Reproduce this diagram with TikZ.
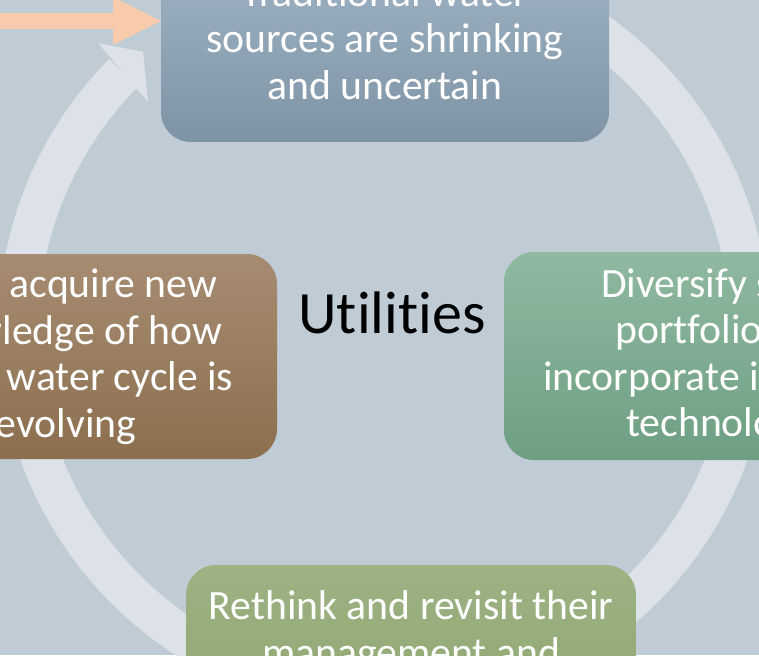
\documentclass[tikz,border=0pt]{standalone}
\usepackage{fontspec}
\setmainfont{Carlito}[Ligatures=NoCommon]
\definecolor{bgc}{HTML}{BFCCD6}
\definecolor{ringc}{HTML}{DCE2E7}
\definecolor{orangec}{HTML}{F8CBAD}
\definecolor{blueT}{HTML}{A2B6C6}
\definecolor{blueB}{HTML}{7E94A6}
\definecolor{brownT}{HTML}{A68C72}
\definecolor{brownB}{HTML}{8C6F4E}
\definecolor{greenT}{HTML}{8FB9A0}
\definecolor{greenB}{HTML}{6E9F83}
\definecolor{oliveT}{HTML}{9EB284}
\definecolor{oliveB}{HTML}{88A268}
\begin{document}
\begin{tikzpicture}[x=1pt,y=-1pt,
  box/.style={rounded corners=30pt, inner sep=0pt, text=white, align=center,
    font=\fontsize{41.7}{46.5}\selectfont},
  txt/.style={inner sep=0pt, text=white, align=center,
    font=\fontsize{41.7}{46.5}\selectfont},
  ringline/.style={draw=ringc, line width=40pt},
  ringhead/.style={fill=ringc},
  inarrow/.style={fill=orangec}]
\useasboundingbox (0,0) rectangle (759,655);
\clip (0,0) rectangle (759,655);
\fill[bgc] (0,0) rectangle (759,655);
% circular arrow
\coordinate (C) at (384,330);
\draw[ringline] ([shift={(-135.4:366)}]C) arc[start angle=-135.4, end angle=-420, radius=366];
\coordinate (h1) at ([shift={(-134.9:405)}]C);
\coordinate (h2) at ([shift={(-130.9:368)}]C);
\coordinate (h3) at ([shift={(-136:328)}]C);
\fill[ringhead] (h1) -- (h2) -- (h3) -- cycle;
% boxes
\node[box, top color=blueT, bottom color=blueB, minimum width=448pt, minimum height=207pt] (top) at (385,38.5) {Traditional water\\sources are shrinking\\and uncertain};
\node[box, top color=brownT, bottom color=brownB, minimum width=422pt, minimum height=205pt] (left) at (66,356.5) {must acquire new\\knowledge of how\\\hspace*{42pt}the water cycle is\\evolving};
\node[box, top color=greenT, bottom color=greenB, minimum width=460pt, minimum height=208pt] (right) at (734,356) {Diversify supply\\portfolios and\\incorporate innovative\\technologies};
\node[box, top color=oliveT, bottom color=oliveB, minimum width=450pt, minimum height=210pt] (bottom) at (411,670) {};
\node[txt, anchor=north] (btxt) at ([yshift=-26pt]bottom.north) {Rethink and revisit their\\management and};
% incoming arrow
\coordinate (a0) at (-5,13);
\fill[inarrow] (a0) -- (113,13) -- (113,-3) -- (top.west |- 0,21) -- (113,45) -- (113,29) -- (-5,29) -- cycle;
% centre label
\node[inner sep=0pt, font=\fontsize{60}{66}\selectfont] (util) at (392,313) {Utilities};
\end{tikzpicture}
\end{document}
